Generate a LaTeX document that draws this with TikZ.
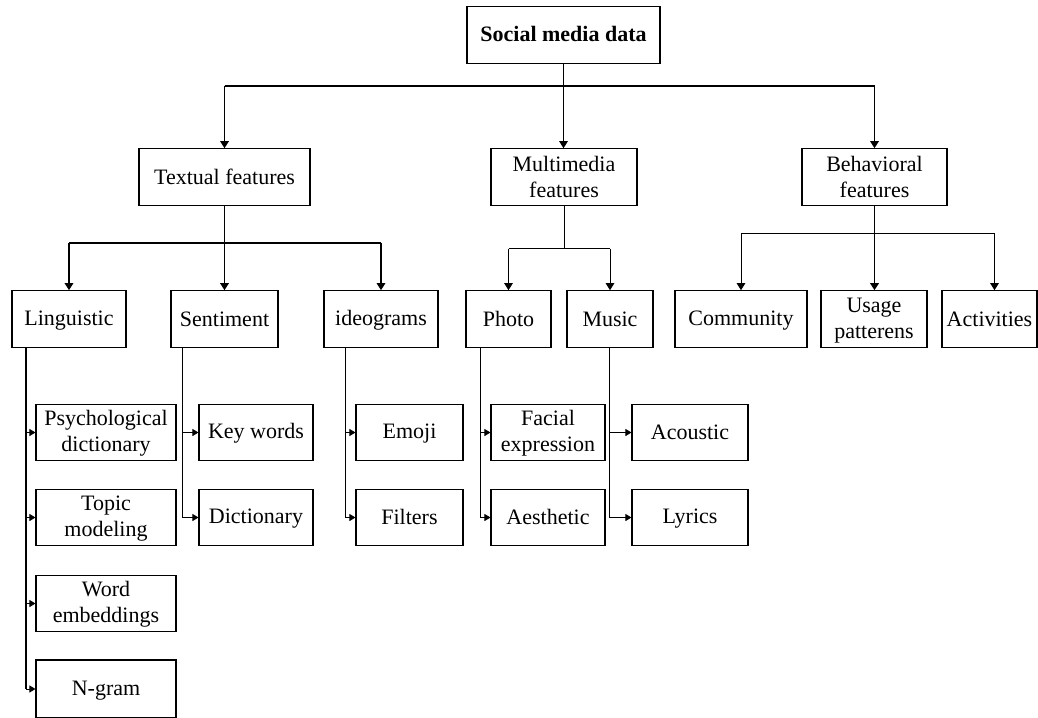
\documentclass[tikz,border=0pt]{standalone}
\usepackage{fontspec}
\setmainfont{Liberation Serif}
\usetikzlibrary{arrows.meta}
\newcommand\zz{\rule[-3pt]{0pt}{20pt}}
\begin{document}
\begin{tikzpicture}[x=1pt,y=-1pt,
  box/.style={draw, line width=1.1pt, inner sep=0pt, align=center,
    font=\fontsize{22}{26}\selectfont, minimum height=56.5pt},
  thin/.style={line width=1pt},
  mid/.style={line width=1.4pt},
  thk/.style={line width=1.9pt},
  arr/.style={-{Triangle[length=7pt,width=8.5pt]}},
  sarr/.style={-{Triangle[length=6pt,width=7pt]}},
]
\useasboundingbox (0,0) rectangle (1038,717);

% level 1
\node[box, minimum width=193pt] (root) at (563.5,35) {\zz\textbf{Social media data}};
% level 2
\node[box, minimum width=171pt] (tf) at (224.5,177) {\zz Textual features};
\node[box, minimum width=146pt] (mf) at (564,177) {\zz Multimedia\\\zz features};
\node[box, minimum width=145pt] (bf) at (874.5,177) {\zz Behavioral\\\zz features};
% level 3
\node[box, minimum width=114pt] (ling) at (69,319) {\zz Linguistic};
\node[box, minimum width=107pt] (sent) at (224.5,319) {\zz Sentiment};
\node[box, minimum width=114pt] (ideo) at (381,319) {\zz ideograms};
\node[box, minimum width=85pt] (photo) at (508.5,319) {\zz Photo};
\node[box, minimum width=86pt] (music) at (610,319) {\zz Music};
\node[box, minimum width=132pt] (comm) at (741,319) {\zz Community};
\node[box, minimum width=106pt] (usage) at (874,319) {\zz Usage\\\zz patterens};
\node[box, minimum width=95pt] (act) at (989.5,319) {\zz Activities};
% level 4
\node[box, minimum width=140pt] (psych) at (106,432.5) {\zz Psychological\\\zz dictionary};
\node[box, minimum width=140pt] (topic) at (106,517.5) {\zz Topic\\\zz modeling};
\node[box, minimum width=140pt] (word) at (106,603.5) {\zz Word\\\zz embeddings};
\node[box, minimum width=140pt, minimum height=58pt] (ngram) at (106,689) {\zz N-gram};
\node[box, minimum width=114pt] (key) at (256,432.5) {\zz Key words};
\node[box, minimum width=114pt] (dict) at (256,517.5) {\zz Dictionary};
\node[box, minimum width=107pt] (emoji) at (409.5,432.5) {\zz Emoji};
\node[box, minimum width=107pt] (filt) at (409.5,517.5) {\zz Filters};
\node[box, minimum width=114pt] (facial) at (548,432.5) {\zz Facial\\\zz expression};
\node[box, minimum width=114pt] (aesth) at (548,517.5) {\zz Aesthetic};
\node[box, minimum width=116pt] (acou) at (690,432.5) {\zz Acoustic};
\node[box, minimum width=116pt] (lyr) at (690,517.5) {\zz Lyrics};

% root -> level 2
\draw[thk] (root.south) -- ++(0,22) coordinate (rj);
\draw[thk] (tf.north |- rj) -- (bf.north |- rj);
\draw[thin, arr] (root.south) -- (root.south |- mf.north);
\draw[mid, arr] (tf.north |- rj) -- (tf.north);
\draw[mid, arr] (bf.north |- rj) -- (bf.north);

% textual -> level 3
\draw[thk] (tf.south) -- ++(0,37) coordinate (tj);
\draw[thk] (ling.north |- tj) -- (ideo.north |- tj);
\draw[mid, arr] (tj) -- (tj |- sent.north);
\draw[mid, arr] (ling.north |- tj) -- (ling.north);
\draw[mid, arr] (ideo.north |- tj) -- (ideo.north);

% multimedia -> level 3
\draw[thin] (mf.south) -- ++(0,43) coordinate (mj);
\draw[thin] (photo.north |- mj) -- (music.north |- mj);
\draw[thin, arr] (photo.north |- mj) -- (photo.north);
\draw[thin, arr] (music.north |- mj) -- (music.north);

% behavioral -> level 3
\draw[thk] (bf.south) -- ++(0,28) coordinate (bj);
\draw[thin] (comm.north |- bj) -- ([xshift=5pt]act.north |- bj);
\draw[thk, arr] (bj) -- (bj |- usage.north);
\draw[thin, arr] (comm.north |- bj) -- (comm.north);
\draw[thin, arr] ([xshift=5pt]act.north |- bj) -- ([xshift=5pt]act.north);

% linguistic spine
\draw[thk] ([xshift=-43pt]ling.south) coordinate (ls) -- (ls |- ngram.west);
\foreach \n in {psych,topic,word,ngram}
  \draw[thin, sarr] (ls |- \n.west) -- (\n.west);

% sentiment spine
\draw[thin] ([xshift=-42.5pt]sent.south) coordinate (ss) -- (ss |- dict.west);
\foreach \n in {key,dict}
  \draw[thin, sarr] (ss |- \n.west) -- (\n.west);

% ideograms spine
\draw[thin] ([xshift=-36pt]ideo.south) coordinate (is) -- (is |- filt.west);
\foreach \n in {emoji,filt}
  \draw[thin, sarr] (is |- \n.west) -- (\n.west);

% photo spine
\draw[thin] ([xshift=-28pt]photo.south) coordinate (ps) -- (ps |- aesth.west);
\foreach \n in {facial,aesth}
  \draw[thin, sarr] (ps |- \n.west) -- (\n.west);

% music spine
\draw[thin] ([xshift=-1pt]music.south) coordinate (ms) -- (ms |- lyr.west);
\foreach \n in {acou,lyr}
  \draw[thin, sarr] (ms |- \n.west) -- (\n.west);
\end{tikzpicture}
\end{document}
